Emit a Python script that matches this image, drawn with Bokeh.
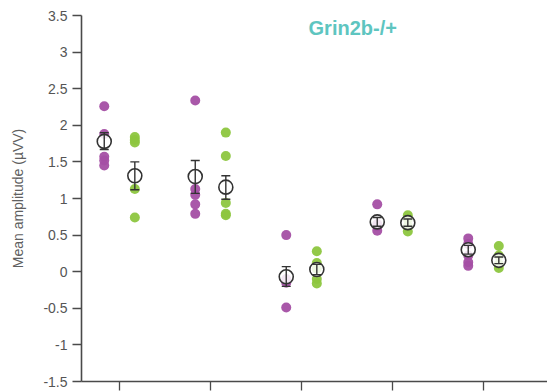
from bokeh.plotting import figure
from bokeh.models import Range1d, FixedTicker, Label, Whisker, ColumnDataSource, TeeHead
from bokeh.embed import file_html
from bokeh.resources import INLINE

# ---- data ----
groups = [1, 2, 3, 4, 5]
title_text = "Grin2b-/+"
y_label = "Mean amplitude (\u00b5VV)"
y_ticks = [-1.5, -1, -0.5, 0, 0.5, 1, 1.5, 2, 2.5, 3, 3.5]

purple_group = [1, 1, 1, 1, 1, 2, 2, 2, 2, 2, 3, 3, 3, 3, 4, 4, 4, 4, 5, 5, 5, 5, 5]
purple_vals = [2.26, 1.88, 1.57, 1.52, 1.45,
               2.34, 1.13, 1.05, 0.92, 0.79,
               0.50, -0.10, -0.15, -0.49,
               0.92, 0.65, 0.62, 0.56,
               0.455, 0.38, 0.22, 0.13, 0.08]
green_group = [1, 1, 1, 1, 1, 2, 2, 2, 2, 2, 3, 3, 3, 3, 3, 4, 4, 4, 4, 5, 5, 5, 5]
green_vals = [1.84, 1.80, 1.765, 1.13, 0.74,
              1.90, 1.58, 0.94, 0.79, 0.77,
              0.28, 0.12, 0.04, -0.10, -0.16,
              0.77, 0.72, 0.62, 0.55,
              0.35, 0.22, 0.10, 0.05]

purple_mean = [1.78, 1.30, -0.07, 0.68, 0.30]
purple_upper = [1.90, 1.52, 0.07, 0.74, 0.36]
purple_lower = [1.67, 1.07, -0.20, 0.62, 0.24]
green_mean = [1.31, 1.155, 0.03, 0.67, 0.155]
green_upper = [1.50, 1.31, 0.10, 0.72, 0.20]
green_lower = [1.12, 0.99, -0.04, 0.62, 0.11]

PURPLE = "#a44fa4"
GREEN = "#8dc63f"
AXIS = "#4a4a4a"
OFF = 0.168

p = figure(width=547, height=392, output_backend="svg", toolbar_location=None,
           x_range=Range1d(0.582, 5.703), y_range=Range1d(-1.5, 3.5),
           min_border_left=81, min_border_right=0, min_border_top=15, min_border_bottom=11)
p.outline_line_color = None
p.xgrid.visible = False
p.ygrid.visible = False
p.background_fill_color = "white"

# y axis
p.yaxis.ticker = FixedTicker(ticks=y_ticks)
p.yaxis.major_label_overrides = {t: ("%g" % t) for t in y_ticks}
p.yaxis.axis_label = y_label
p.yaxis.axis_label_text_font = "Liberation Sans"
p.yaxis.axis_label_text_font_style = "normal"
p.yaxis.axis_label_text_font_size = "14px"
p.yaxis.axis_label_text_color = "#606060"
p.yaxis.axis_label_standoff = 14
p.yaxis.major_label_text_font = "Liberation Sans"
p.yaxis.major_label_text_font_size = "14px"
p.yaxis.major_label_text_color = "#555555"
p.yaxis.major_label_standoff = 5
p.yaxis.major_tick_in = 0
p.yaxis.major_tick_out = 9
p.yaxis.minor_tick_line_color = None
p.yaxis.axis_line_color = AXIS
p.yaxis.axis_line_width = 1.6
p.yaxis.major_tick_line_color = AXIS
p.yaxis.major_tick_line_width = 1.3

# x axis
p.xaxis.ticker = FixedTicker(ticks=groups)
p.xaxis.major_label_overrides = {g: "" for g in groups}
p.xaxis.major_label_text_font_size = "1px"
p.xaxis.major_label_standoff = 0
p.xaxis.major_tick_in = 0
p.xaxis.major_tick_out = 9
p.xaxis.minor_tick_line_color = None
p.xaxis.axis_line_color = AXIS
p.xaxis.axis_line_width = 1.6
p.xaxis.major_tick_line_color = AXIS
p.xaxis.major_tick_line_width = 1.3

# individual points
px = [g - OFF for g in purple_group]
gx = [g + OFF for g in green_group]
p.scatter(px, purple_vals, size=10, fill_color=PURPLE, line_color=None, fill_alpha=0.95)
p.scatter(gx, green_vals, size=10, fill_color=GREEN, line_color=None, fill_alpha=0.95)

# means
pmx = [g - OFF for g in groups]
gmx = [g + OFF for g in groups]
p.scatter(pmx, purple_mean, size=14, fill_color="white", fill_alpha=0.85,
          line_color="#333333", line_width=1.6)
p.scatter(gmx, green_mean, size=14, fill_color="white", fill_alpha=0.85,
          line_color="#333333", line_width=1.6)

for xs, up, lo in ((pmx, purple_upper, purple_lower), (gmx, green_upper, green_lower)):
    src = ColumnDataSource(dict(base=xs, upper=up, lower=lo))
    w = Whisker(base="base", upper="upper", lower="lower", source=src, dimension="height",
                level="overlay", line_color="#333333", line_width=1.4,
                upper_head=TeeHead(size=9, line_color="#333333", line_width=1.4),
                lower_head=TeeHead(size=9, line_color="#333333", line_width=1.4))
    p.add_layout(w)

p.add_layout(Label(x=3.077, y=3.33, text=title_text, text_font="Liberation Sans",
                   text_font_style="bold", text_font_size="20px", text_color="#5ec5c0",
                   text_align="left", text_baseline="middle"))

open("out.html", "w").write(file_html(p, INLINE))
